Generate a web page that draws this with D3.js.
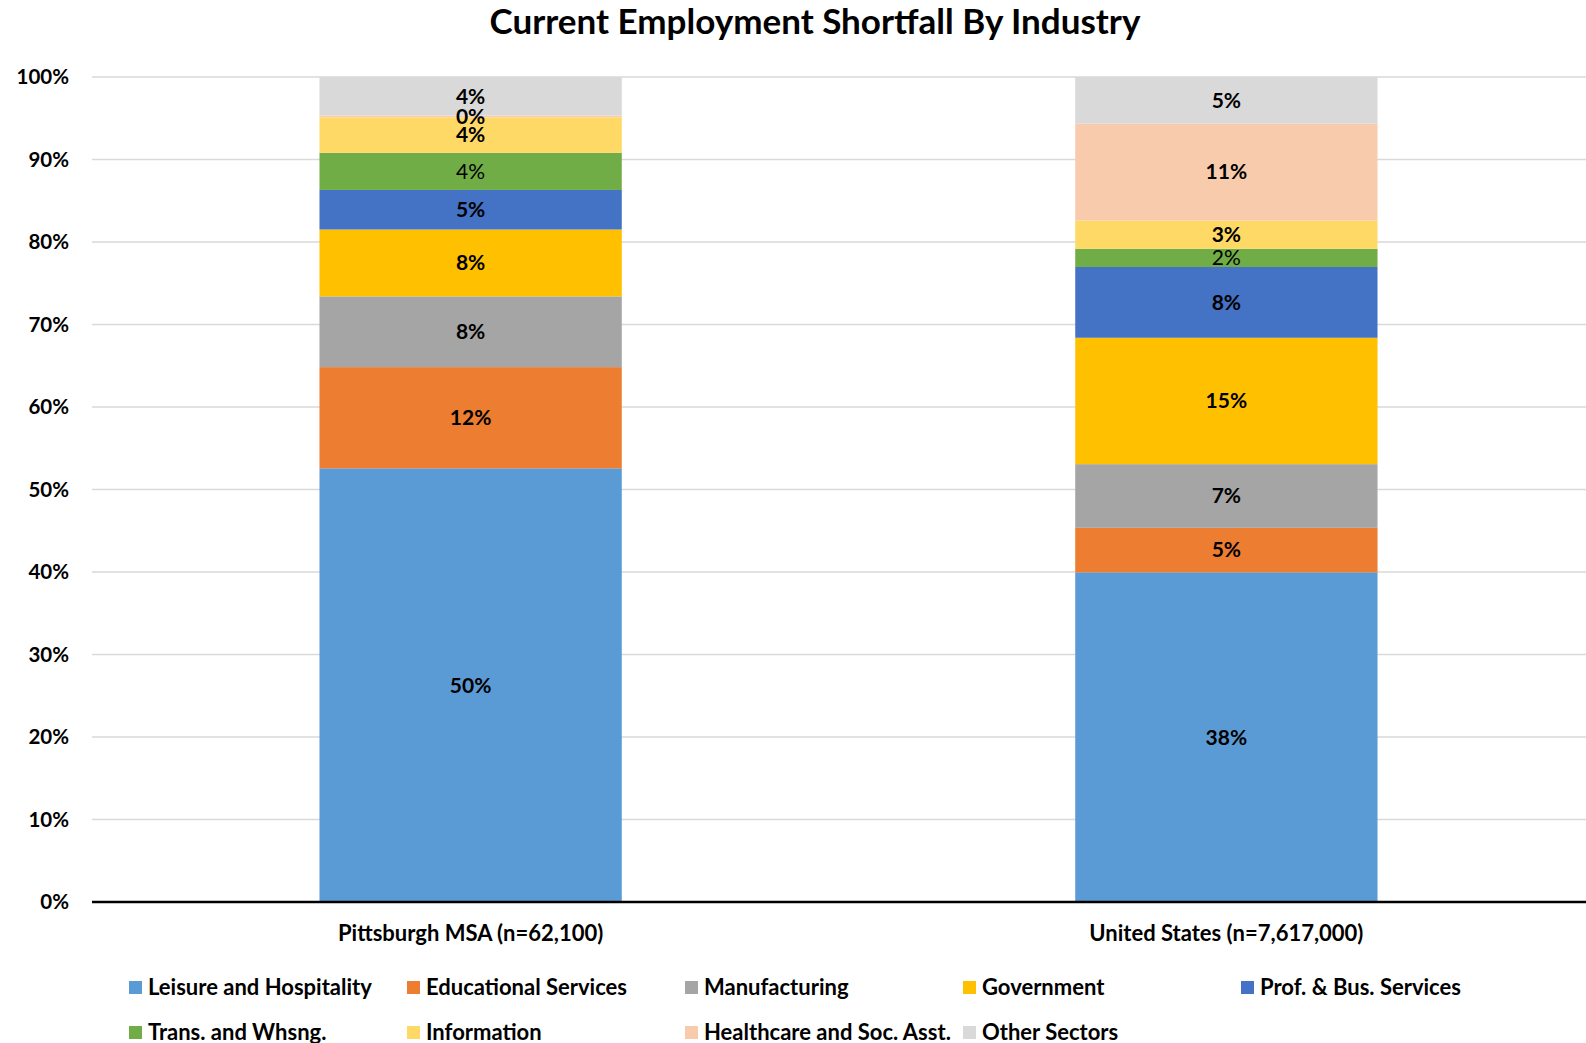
<!DOCTYPE html>
<html>
<head>
<meta charset="utf-8">
<script src="https://cdn.jsdelivr.net/npm/d3@7"></script>
<style>
  html, body { margin: 0; padding: 0; background: #fff; }
  svg { display: block; font-family: Lato, "Open Sans", sans-serif; }
</style>
</head>
<body>
<svg id="chart" width="1586" height="1043"></svg>
<script>
// Regions shown as stacked 100% columns
const regions = ["Pittsburgh MSA (n=62,100)", "United States (n=7,617,000)"];

// Industries, bottom to top of each column
const industries = [
  "Leisure and Hospitality", "Educational Services", "Manufacturing",
  "Government", "Prof. & Bus. Services", "Trans. and Whsng.",
  "Information", "Healthcare and Soc. Asst.", "Other Sectors"
];

const industryColors = [
  "#5b9bd5", "#ed7d31", "#a5a5a5", "#ffc000", "#4472c4",
  "#70ad47", "#ffd966", "#f8cbad", "#d9d9d9"
];

// Share of shortfall (percent) by industry for each region
const pittsburghValues = [50.45, 11.77, 8.23, 7.78, 4.60, 4.32, 4.13, 0.20, 4.49];
const unitedStatesValues = [38.0, 5.13, 7.34, 14.57, 8.16, 2.10, 3.26, 11.18, 5.36];

const yTicks = [0, 0.1, 0.2, 0.3, 0.4, 0.5, 0.6, 0.7, 0.8, 0.9, 1.0];

const seriesByRegion = [pittsburghValues, unitedStatesValues];

const rows = regions.map((r, i) => {
  const row = { region: r };
  industries.forEach((ind, j) => { row[ind] = seriesByRegion[i][j]; });
  return row;
});

const stack = d3.stack().keys(industries).offset(d3.stackOffsetExpand);
const layers = stack(rows);

const svg = d3.select("#chart");
const plot = { left: 92, right: 1586, top: 77, bottom: 902 };

const x = d3.scaleBand().domain(regions).range([plot.left, 1605]).paddingInner(0.6).paddingOuter(0.301);
const y = d3.scaleLinear().domain([0, 1]).range([plot.bottom, plot.top]);

// Title
svg.append("text")
  .attr("x", 815).attr("y", 34)
  .attr("text-anchor", "middle")
  .attr("font-size", 35).attr("font-weight", 700)
  .attr("fill", "#000")
  .text("Current Employment Shortfall By Industry");

// Gridlines
svg.append("g")
  .selectAll("line")
  .data(yTicks.filter(t => t > 0))
  .join("line")
  .attr("x1", plot.left).attr("x2", plot.right)
  .attr("y1", d => y(d)).attr("y2", d => y(d))
  .attr("stroke", "#d9d9d9").attr("stroke-width", 1.5);

// Y axis tick labels
const yAxis = d3.axisLeft(y).tickValues(yTicks).tickFormat(d3.format(".0%")).tickSize(0).tickPadding(23);
const yg = svg.append("g").attr("transform", `translate(${plot.left},0)`).call(yAxis);
yg.select(".domain").remove();
yg.selectAll("text")
  .attr("font-family", "Lato, 'Open Sans', sans-serif")
  .attr("font-size", 20.5).attr("font-weight", 700).attr("fill", "#000");

// Stacked columns
const layerG = svg.append("g")
  .selectAll("g")
  .data(layers)
  .join("g")
  .attr("fill", (d, i) => industryColors[i]);

layerG.selectAll("rect")
  .data(d => d.map(p => ({ p, key: d.key })))
  .join("rect")
  .attr("x", d => x(d.p.data.region))
  .attr("width", x.bandwidth())
  .attr("y", d => y(d.p[1]))
  .attr("height", d => y(d.p[0]) - y(d.p[1]));

// Value labels centred on each segment
const fmtLabel = v => Math.round(v) + "%";
layers.forEach((layer, i) => {
  layer.forEach(p => {
    const raw = p.data[layer.key];
    svg.append("text")
      .attr("x", x(p.data.region) + x.bandwidth() / 2)
      .attr("y", y((p[0] + p[1]) / 2))
      .attr("dy", "0.35em")
      .attr("text-anchor", "middle")
      .attr("font-size", 21)
      .attr("font-weight", layer.key === "Trans. and Whsng." ? 400 : 700)
      .attr("fill", "#000")
      .text(fmtLabel(raw));
  });
});

// Baseline
svg.append("line")
  .attr("x1", plot.left).attr("x2", plot.right)
  .attr("y1", y(0)).attr("y2", y(0))
  .attr("stroke", "#000").attr("stroke-width", 2.5);

// Category labels
const xAxis = d3.axisBottom(x).tickSize(0).tickPadding(23);
const xg = svg.append("g").attr("transform", `translate(0,${plot.bottom})`).call(xAxis);
xg.select(".domain").remove();
xg.selectAll("text")
  .attr("font-family", "Lato, 'Open Sans', sans-serif")
  .attr("font-size", 22).attr("font-weight", 700).attr("fill", "#000");

// Legend: two rows of five columns
const legend = svg.append("g");
industries.forEach((ind, i) => {
  const col = i % 5, row = Math.floor(i / 5);
  const lx = 129 + col * 278, ly = 987 + row * 45;
  const item = legend.append("g").attr("transform", `translate(${lx},${ly})`);
  item.append("rect")
    .attr("x", 0).attr("y", -6).attr("width", 13).attr("height", 13)
    .attr("fill", industryColors[i]);
  item.append("text")
    .attr("x", 19).attr("y", 0).attr("dy", "0.35em")
    .attr("font-size", 22).attr("font-weight", 700).attr("fill", "#000")
    .text(ind);
});
</script>
</body>
</html>
